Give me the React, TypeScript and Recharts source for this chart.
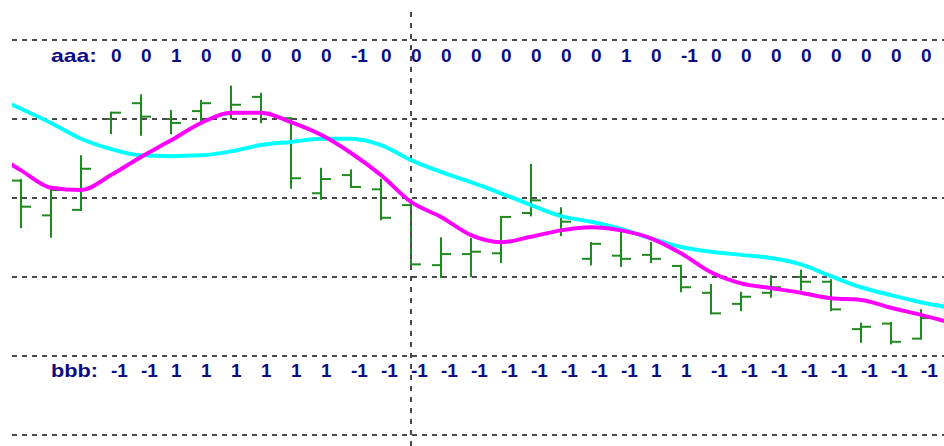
import { ComposedChart, Bar, Line, XAxis, YAxis, ReferenceLine } from "recharts";

const GREEN = "#1f8a1f";
const NAVY = "#0c0c84";
const GRID = "#4a4a4a";

// OHLC for bar slots 0..30
const opens = [32.2, 27.8, 28.5, 40.0, 42.0, 40.0, 41.0, 40.6, 42.8, 40.1, 30.6, 32.9, 31.1, 29.1, 21.5, 22.9, 23.0, 28.1, 28.0, 22.3, 22.7, 22.8, 21.4, 18.0, 16.6, 18.0, 20.0, 19.4, 13.4, 14.1, 12.2];
const highs = [32.3, 31.3, 35.3, 40.8, 43.0, 41.0, 42.3, 44.1, 43.2, 40.1, 33.7, 33.5, 32.3, 29.2, 24.9, 24.8, 27.6, 34.2, 28.7, 24.3, 25.6, 24.3, 21.4, 19.0, 18.0, 20.1, 20.8, 19.6, 14.1, 14.2, 15.8];
const lows = [26.3, 25.1, 28.5, 38.2, 38.0, 38.2, 39.6, 40.1, 39.6, 31.3, 29.9, 31.4, 27.3, 21.6, 20.0, 20.1, 21.9, 27.8, 25.3, 21.6, 21.4, 21.9, 18.2, 15.4, 15.8, 17.5, 18.4, 15.8, 11.8, 11.6, 12.2];
const closes = [28.9, 31.0, 33.7, 40.8, 40.3, 39.5, 42.0, 41.8, 40.8, 32.5, 32.4, 31.4, 27.5, 21.6, 22.9, 23.2, 27.6, 29.7, 27.0, 24.2, 22.3, 22.3, 18.7, 15.4, 17.5, 18.7, 19.4, 15.9, 13.7, 11.8, 14.8];

// moving averages for slots -1..31 (the outer two sit past the visible edges)
const cyanLine = [43.0, 41.3, 39.5, 37.5, 36.2, 35.4, 35.3, 35.4, 35.9, 36.7, 37.1, 37.5, 37.5, 36.7, 34.8, 33.3, 32.0, 30.6, 29.1, 27.7, 27.0, 26.1, 24.9, 23.8, 23.2, 22.8, 22.4, 21.6, 20.1, 18.7, 17.7, 16.8, 16.1];
const magentaLine = [35.8, 33.5, 31.3, 31.0, 32.9, 35.2, 37.3, 39.5, 40.8, 40.8, 39.6, 38.0, 35.7, 32.9, 29.5, 27.6, 25.3, 24.4, 25.1, 25.9, 26.3, 25.9, 24.9, 23.0, 20.6, 19.2, 18.6, 18.0, 17.3, 17.1, 16.1, 15.2, 14.2];

// indicator rows, from slot 3 on
const LABEL_START = 3;
const aaaValues = [0, 0, 1, 0, 0, 0, 0, 0, -1, 0, 0, 0, 0, 0, 0, 0, 0, 1, 0, -1, 0, 0, 0, 0, 0, 0, 0, 0];
const bbbValues = [-1, -1, 1, 1, 1, 1, 1, 1, -1, -1, -1, -1, -1, -1, -1, -1, -1, -1, 1, 1, -1, -1, -1, -1, -1, -1, -1, -1];

const gridLevels = [0, 10, 20, 30, 40, 50];
const separatorSlot = 13;

const data = cyanLine.map((c, k) => {
  const slot = k - 1;
  const has = slot >= 0 && slot < opens.length;
  return {
    slot,
    cyan: c,
    magenta: magentaLine[k],
    range: has ? [lows[slot], highs[slot]] : null,
    open: has ? opens[slot] : null,
    close: has ? closes[slot] : null,
  };
});

const labelTicks = aaaValues.map((_, i) => i + LABEL_START);

function OhlcShape(props: any) {
  const { x, y, width, height, payload } = props;
  if (!payload || payload.range == null) return null;
  const [lo, hi] = payload.range;
  const top = Math.min(y, y + height);
  const h = Math.abs(height);
  const k = hi === lo ? 0 : h / (hi - lo);
  const cx = x + width / 2;
  const yo = top + (hi - payload.open) * k;
  const yc = top + (hi - payload.close) * k;
  return (
    <g stroke={GREEN} strokeWidth={2}>
      <line x1={cx} y1={top - 1} x2={cx} y2={top + h + 1} />
      <line x1={cx - 9} y1={yo} x2={cx} y2={yo} />
      <line x1={cx} y1={yc} x2={cx + 10} y2={yc} />
    </g>
  );
}

function RowTick(props: any) {
  const { x, payload } = props;
  const n = payload.value - LABEL_START;
  return (
    <g fontFamily="'Liberation Sans', Arial, sans-serif" fontWeight="bold" fontSize={19} fill={NAVY}>
      {n === 0 && (
        <>
          <text x={x - 60} y={62} textLength={46} lengthAdjust="spacingAndGlyphs">aaa:</text>
          <text x={x - 60} y={377} textLength={47} lengthAdjust="spacingAndGlyphs">bbb:</text>
        </>
      )}
      <text x={x} y={62}>{aaaValues[n]}</text>
      <text x={x} y={377}>{bbbValues[n]}</text>
    </g>
  );
}

export default function App() {
  return (
    <div style={{ position: "fixed", left: 0, top: 0, background: "#fff" }}>
      <ComposedChart width={944} height={446} data={data} margin={{ top: 12, right: 0, bottom: -1, left: 12 }}>
        <XAxis
          dataKey="slot"
          type="number"
          domain={[-0.3, 30.7667]}
          allowDataOverflow
          ticks={labelTicks}
          interval={0}
          height={1}
          axisLine={false}
          tickLine={false}
          tick={<RowTick />}
        />
        <YAxis hide type="number" domain={[-1.392, 53.544]} allowDataOverflow />
        {gridLevels.map((v) => (
          <ReferenceLine key={v} y={v} stroke={GRID} strokeWidth={2} strokeDasharray="5 5" />
        ))}
        <ReferenceLine x={separatorSlot} stroke={GRID} strokeWidth={2} strokeDasharray="5 6" />
        <Bar dataKey="range" barSize={10} shape={<OhlcShape />} isAnimationActive={false} />
        <Line type="monotone" dataKey="cyan" stroke="#00ffff" strokeWidth={4} dot={false} isAnimationActive={false} />
        <Line type="monotone" dataKey="magenta" stroke="#ff00ff" strokeWidth={4} dot={false} isAnimationActive={false} />
      </ComposedChart>
    </div>
  );
}
